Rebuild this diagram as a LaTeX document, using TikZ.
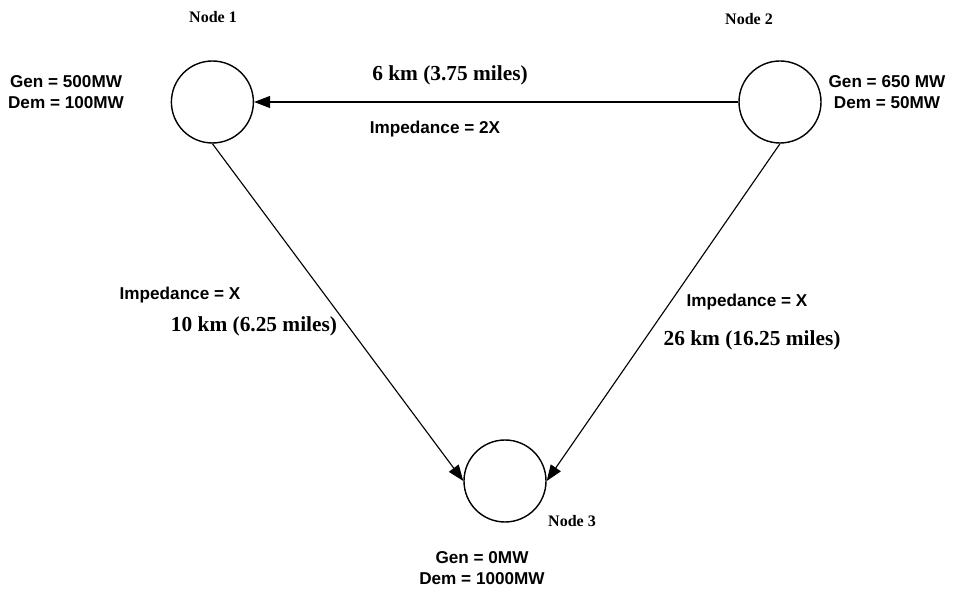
\documentclass[tikz,border=0pt]{standalone}
\usepackage{fontspec}
\setmainfont{Liberation Serif}
\setsansfont{Liberation Sans}
\usetikzlibrary{arrows.meta}
\begin{document}
\begin{tikzpicture}[
  bus/.style={draw, circle, line width=1pt, inner sep=0pt, minimum size=2.05cm},
  line/.style={-{Triangle[length=4mm,width=3mm]}, thick},
  buslbl/.style={font=\bfseries\fontsize{11.4}{13}\selectfont},
  genlbl/.style={font=\sffamily\bfseries\fontsize{12.2}{14.5}\selectfont, align=center},
  distlbl/.style={font=\bfseries\fontsize{15.2}{18}\selectfont},
  implbl/.style={font=\sffamily\bfseries\fontsize{12.2}{14.5}\selectfont}]
\useasboundingbox (0,0) rectangle (23.9,14.725);
% buses
\node[bus] (n1) at (5.31,12.175) {};
\node[bus] (n2) at (19.5,12.175) {};
\node[bus] (n3) at (12.625,2.7) {};
\node[buslbl] (n1lbl) at (5.325,14.3) {Node 1};
\node[buslbl] (n2lbl) at (18.725,14.25) {Node 2};
\node[buslbl] (n3lbl) at (14.3,1.7) {Node 3};
% generation and demand
\node[genlbl] (g1) at (1.65,12.425) {Gen = 500MW\\Dem = 100MW};
\node[genlbl] (g2) at (22.175,12.425) {Gen = 650 MW\\Dem = 50MW};
\node[genlbl] (g3) at (12.05,0.525) {Gen = 0MW\\Dem = 1000MW};
% lines
\draw[line] (n2.west) -- (n1.east);
\draw[line] (n1.south) -- (n3.west);
\draw[line] (n2.south) -- (n3.east);
\node[distlbl] (d12) at (11.25,12.85) {6 km (3.75 miles)};
\node[implbl] (z12) at (10.875,11.5) {Impedance = 2X};
\node[implbl] (z13) at (4.5,7.35) {Impedance = X};
\node[distlbl] (d13) at (6.35,6.575) {10 km (6.25 miles)};
\node[implbl] (z23) at (18.675,7.175) {Impedance = X};
\node[distlbl] (d23) at (18.8,6.225) {26 km (16.25 miles)};
\end{tikzpicture}
\end{document}
